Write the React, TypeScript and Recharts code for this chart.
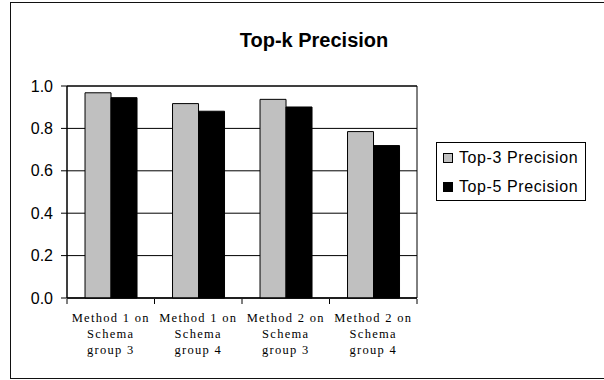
import React from 'react';
import { BarChart, Bar, XAxis, YAxis, CartesianGrid, Legend, ReferenceArea } from 'recharts';

const categories = [
  'Method 1 on Schema group 3',
  'Method 1 on Schema group 4',
  'Method 2 on Schema group 3',
  'Method 2 on Schema group 4',
];
const categoryLines = [
  ['Method 1 on', 'Schema', 'group 3'],
  ['Method 1 on', 'Schema', 'group 4'],
  ['Method 2 on', 'Schema', 'group 3'],
  ['Method 2 on', 'Schema', 'group 4'],
];
const top3Precision = [0.968, 0.917, 0.937, 0.785];
const top5Precision = [0.945, 0.881, 0.901, 0.719];
const yTicks = [0, 0.2, 0.4, 0.6, 0.8, 1.0];
const boundaryTicks = [0, 1, 2, 3, 4];
const seriesNames = ['Top-3 Precision', 'Top-5 Precision'];
const title = 'Top-k Precision';

const data = categories.map((c, i) => ({
  name: c,
  idx: i,
  top3: top3Precision[i],
  top5: top5Precision[i],
}));

const SANS = '"Liberation Sans", Arial, sans-serif';
const SERIF = '"Liberation Serif", "Times New Roman", serif';

const CategoryTick = (props: any) => {
  const { x, y, payload } = props;
  const i = categories.indexOf(payload.value);
  const lines = i >= 0 ? categoryLines[i] : [String(payload.value)];
  return (
    <text x={x} y={y} textAnchor="middle" fontFamily={SERIF} fontSize={12.5} letterSpacing={1.3} fill="#000">
      {lines.map((l, k) => (
        <tspan key={k} x={x} dy={16}>{l}</tspan>
      ))}
    </text>
  );
};

const EmptyTick = () => <g />;

const YTick = (props: any) => {
  const { x, y, payload } = props;
  return (
    <text x={x} y={y} dx={-6} dy={5.5} textAnchor="end" fontFamily={SANS} fontSize={16} fill="#000">
      {Number(payload.value).toFixed(1)}
    </text>
  );
};

const LegendContent = (props: any) => {
  const { payload } = props;
  return (
    <div style={{ border: '1px solid #000', background: '#fff', width: 148, height: 57, boxSizing: 'content-box', padding: 0 }}>
      {(payload || []).map((p: any, k: number) => (
        <div key={k} style={{ display: 'flex', alignItems: 'center', height: 29, paddingLeft: 6, fontFamily: SANS, fontSize: 16, letterSpacing: 0.6, color: '#000', lineHeight: '29px' }}>
          <span style={{ display: 'inline-block', width: 8, height: 8, background: p.color, border: '1px solid #000', marginRight: 6 }} />
          <span>{p.value}</span>
        </div>
      ))}
    </div>
  );
};

export default function App() {
  return (
    <div style={{ position: 'absolute', left: 0, top: 0, width: 604, height: 380, background: '#fff', overflow: 'hidden' }}>
      <div style={{ position: 'absolute', left: 10, top: 2, width: 594, height: 377, borderTop: '1.5px solid #111', borderLeft: '1.5px solid #111', borderBottom: '1.5px solid #111', boxSizing: 'border-box' }} />
      <div style={{ position: 'absolute', left: 0, top: 29, width: 628, textAlign: 'center', fontFamily: SANS, fontWeight: 'bold', fontSize: 20, color: '#000' }}>
        {title}
      </div>
      <BarChart
        width={604}
        height={380}
        data={data}
        margin={{ top: 86, right: 37, left: 0, bottom: 0 }}
        barCategoryGap="20.6%"
        barGap={0}
        style={{ position: 'absolute', left: 0, top: 0 }}
      >
        <CartesianGrid vertical={false} stroke="#000" strokeWidth={1} />
        <XAxis
          xAxisId="b"
          type="number"
          dataKey="idx"
          domain={[0, 4]}
          ticks={boundaryTicks}
          height={81}
          axisLine={false}
          tickLine={{ stroke: '#000' }}
          tickSize={5}
          tick={EmptyTick}
          allowDataOverflow
        />
        <XAxis
          dataKey="name"
          height={1}
          axisLine={{ stroke: '#000' }}
          tickLine={false}
          tick={CategoryTick}
          interval={0}
        />
        <YAxis
          width={67}
          domain={[0, 1]}
          ticks={yTicks}
          axisLine={{ stroke: '#000' }}
          tickLine={{ stroke: '#000' }}
          tickSize={6}
          tick={YTick}
        />
        <ReferenceArea y1={0} y2={1} fill="none" stroke="#000" strokeWidth={1} ifOverflow="visible" />
        <Bar dataKey="top3" name={seriesNames[0]} fill="#C0C0C0" stroke="#000" strokeWidth={1} isAnimationActive={false} />
        <Bar dataKey="top5" name={seriesNames[1]} fill="#000" stroke="#000" strokeWidth={1} isAnimationActive={false} />
        <Legend
          layout="vertical"
          verticalAlign="top"
          align="right"
          wrapperStyle={{ position: 'absolute', left: 436, top: 142, width: 150, height: 59 }}
          content={LegendContent}
        />
      </BarChart>
    </div>
  );
}
